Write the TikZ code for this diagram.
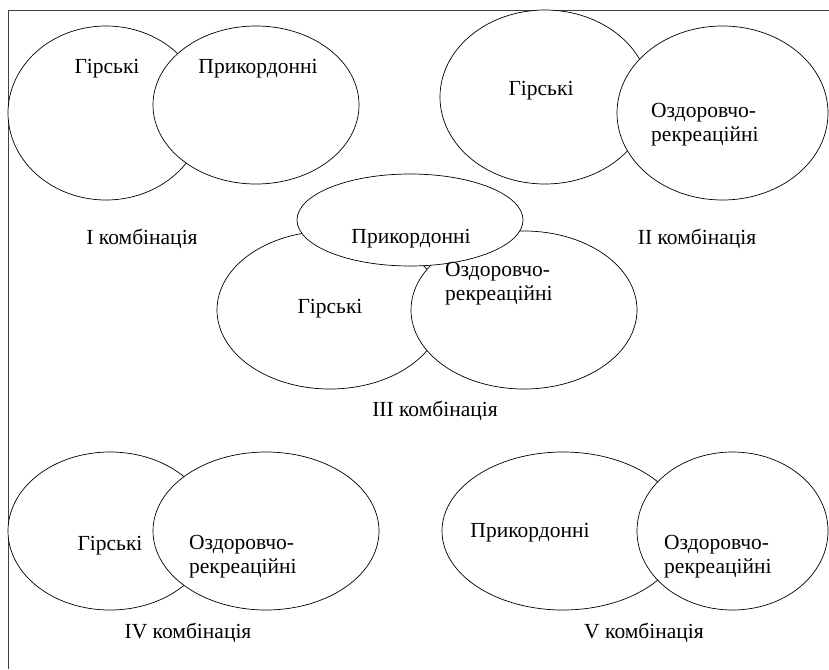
\documentclass[tikz,border=0pt]{standalone}
\usepackage{fontspec}
\setmainfont{Liberation Serif}
\begin{document}
\begin{tikzpicture}[x=1pt,y=-1pt,
  venn/.style={draw=black,fill=white,line width=0.7pt},
  lbl/.style={font=\fontsize{21.5}{24}\selectfont,inner sep=0pt,text=black},
  two/.style={lbl,align=left,anchor=west}]
\useasboundingbox (0,0) rectangle (829,669);
\draw[line width=0.8pt,draw=black!75] (8,669) -- (8,10.5) -- (829,10.5);
% I
\draw[venn] (106,113) ellipse [x radius=98,y radius=87];
\draw[venn] (256,105) ellipse [x radius=103,y radius=79];
% II
\draw[venn] (545,97) ellipse [x radius=105,y radius=87];
\draw[venn] (722.5,113) ellipse [x radius=105.5,y radius=87];
% III
\draw[venn] (330,310) ellipse [x radius=113,y radius=79];
\draw[venn] (524,310) ellipse [x radius=113,y radius=79];
\draw[venn] (410,220) ellipse [x radius=113,y radius=46];
% IV
\draw[venn] (110,531) ellipse [x radius=102,y radius=79];
\draw[venn] (266,531) ellipse [x radius=113,y radius=79];
% V
\draw[venn] (563,531) ellipse [x radius=121,y radius=79];
\draw[venn] (732.5,531) ellipse [x radius=95.5,y radius=79];
% labels
\node[lbl] (g1) at (107,69) {Гірські};
\node[lbl] (p1) at (258,69) {Прикордонні};
\node[lbl] (c1) at (142,239) {І комбінація};
\node[lbl] (g2) at (541,91) {Гірські};
\node[two] (o2) at (651,125) {Оздоровчо-\\рекреаційні};
\node[lbl] (c2) at (697,239) {ІІ комбінація};
\node[lbl] (p3) at (411,239) {Прикордонні};
\node[lbl] (g3) at (330,309) {Гірські};
\node[two] (o3) at (445,284) {Оздоровчо-\\рекреаційні};
\node[lbl] (c3) at (435,411) {ІІІ комбінація};
\node[lbl] (g4) at (110,546) {Гірські};
\node[two] (o4) at (189,557) {Оздоровчо-\\рекреаційні};
\node[lbl] (c4) at (188,633) {IV комбінація};
\node[lbl] (p5) at (530,533) {Прикордонні};
\node[two] (o5) at (664,557) {Оздоровчо-\\рекреаційні};
\node[lbl] (c5) at (644,633) {V комбінація};
\end{tikzpicture}
\end{document}
